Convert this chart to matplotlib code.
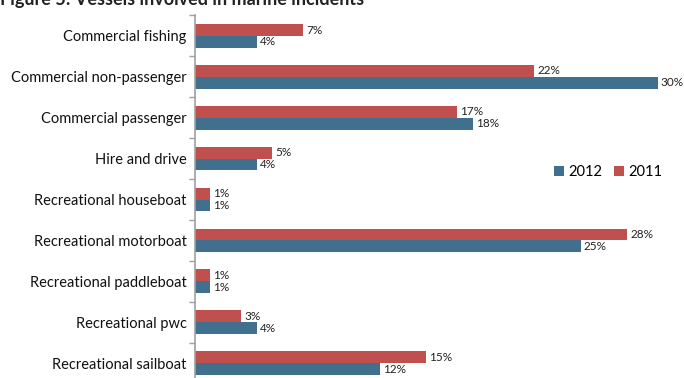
import matplotlib
matplotlib.use("Agg")
import matplotlib.pyplot as plt
import numpy as np

categories = ["Commercial fishing", "Commercial non-passenger", "Commercial passenger",
              "Hire and drive", "Recreational houseboat", "Recreational motorboat",
              "Recreational paddleboat", "Recreational pwc", "Recreational sailboat"]
values_2011 = [7, 22, 17, 5, 1, 28, 1, 3, 15]
values_2012 = [4, 30, 18, 4, 1, 25, 1, 4, 12]

c2011 = "#C0504D"
c2012 = "#41708F"
font = ["Lato", "DejaVu Sans"]
plt.rcParams["font.family"] = font

fig = plt.figure(figsize=(6.84, 3.78), dpi=100)
ax = fig.add_axes([195/684, -0.0146, 1 - 195/684, 0.959 + 0.0146])

y = np.arange(len(categories))
h = 0.29
b11 = ax.barh(y - h/2, values_2011, height=h, color=c2011, label="2011")
b12 = ax.barh(y + h/2, values_2012, height=h, color=c2012, label="2012")
for bars, vals in ((b11, values_2011), (b12, values_2012)):
    for bar, v in zip(bars, vals):
        ax.text(bar.get_width() + 0.2, bar.get_y() + bar.get_height()/2, f"{v}%",
                va="center", ha="left", fontsize=8.5, color="#222222")

ax.set_xlim(0, 31.7)
ax.set_ylim(len(categories) - 0.5, -0.5)
ax.set_yticks(y)
ax.set_yticklabels(categories, fontsize=10.5, color="#111111")
ax.tick_params(axis="y", which="major", length=0, pad=6)
ax.set_yticks(np.arange(-0.5, len(categories), 1), minor=True)
ax.tick_params(axis="y", which="minor", length=4, color="#A0A0A0", width=1)
ax.set_xticks([])
for s in ("top", "right", "bottom"):
    ax.spines[s].set_visible(False)
ax.spines["left"].set_color("#A0A0A0")
ax.spines["left"].set_linewidth(1.2)

handles = [b12, b11]
leg = ax.legend(handles, ["2012", "2011"], loc="center", bbox_to_anchor=(608/684, 1 - 172/378),
                bbox_transform=fig.transFigure, ncol=2, frameon=False, fontsize=10.5,
                handlelength=0.7, handleheight=0.7, handletextpad=0.3, columnspacing=0.8)

fig.text(0.0, 1.0, "Figure 5: Vessels involved in marine incidents", ha="left", va="center",
         fontsize=13, fontweight="bold", color="#222222")

fig.savefig("out.png", dpi=100)
